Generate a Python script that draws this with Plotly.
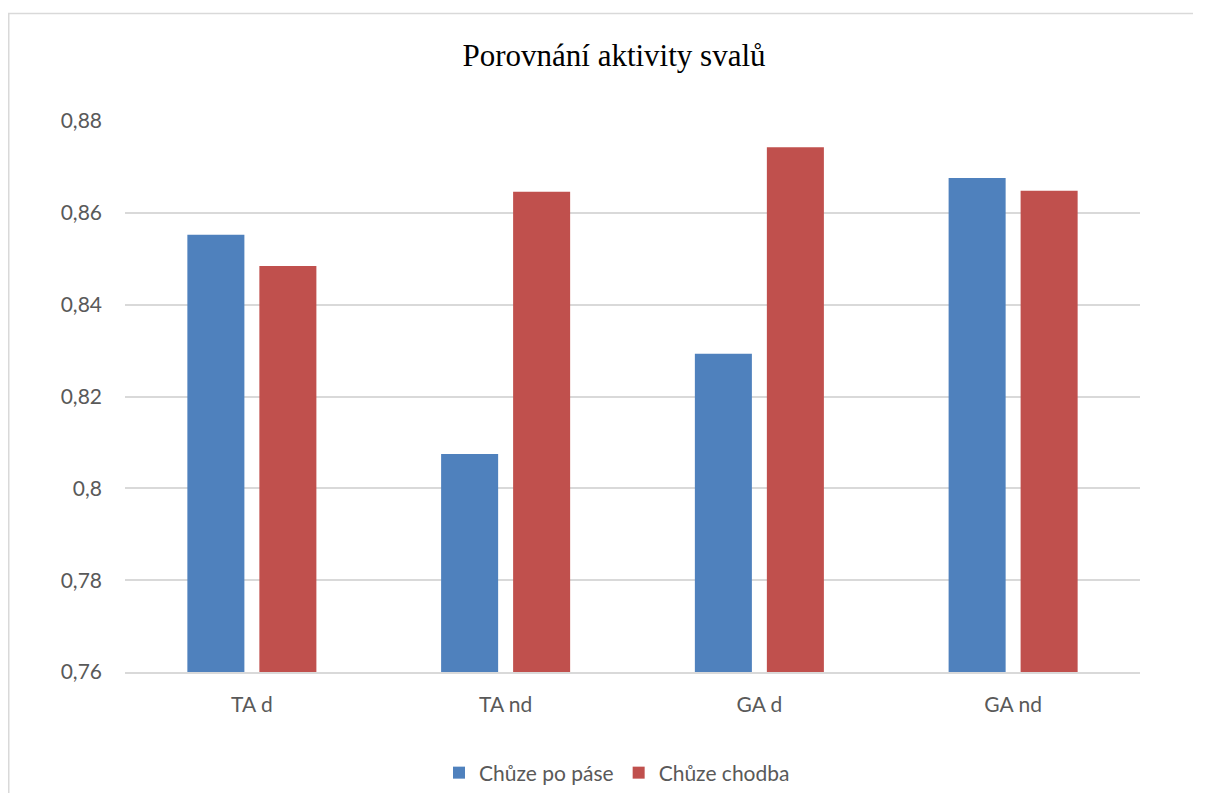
import plotly.graph_objects as go

categories = ["TA d", "TA nd", "GA d", "GA nd"]
series_names = ["Chůze po páse", "Chůze chodba"]
pas_values = [0.8552, 0.8075, 0.8293, 0.8676]
chodba_values = [0.8484, 0.8646, 0.8743, 0.8648]
tick_vals = [0.76, 0.78, 0.80, 0.82, 0.84, 0.86, 0.88]
tick_text = ["0,76", "0,78", "0,8", "0,82", "0,84", "0,86", "0,88"]

fig = go.Figure()
fig.add_trace(go.Bar(x=categories, y=pas_values, name=series_names[0],
                     marker=dict(color="#4F81BD", line=dict(width=0))))
fig.add_trace(go.Bar(x=categories, y=chodba_values, name=series_names[1],
                     marker=dict(color="#C0504D", line=dict(width=0))))

# page body has an 8px margin; size figure so absolute positions match
OFF = 8
W, H = 1207 - 2 * OFF - 6, 805 - 2 * OFF - 4
L, T = 125 - OFF, 121 - OFF
R = W - (1140 - OFF)
B = H - (672 - OFF)
pw = W - L - R
ph = H - T - B

# border: left and top edges only (right/bottom are cut off in the reference)
bx0 = (0.75 - L) / pw
bx1 = (W + 40 - L) / pw
by_top = 1 + (T - (13.5 - OFF)) / ph
by_bot = -(H + 40 - T - ph) / ph
border_path = f"M {bx0},{by_bot} L {bx0},{by_top} L {bx1},{by_top}"

fig.update_layout(
    width=W, height=H,
    margin=dict(l=L, r=R, t=T, b=B, autoexpand=False),
    paper_bgcolor="white", plot_bgcolor="white",
    barmode="group", bargap=0.4325, bargroupgap=0.208,
    title=dict(text="Porovnání aktivity svalů", x=(614 - OFF - L) / pw, xref="paper",
               xanchor="center", y=1 - (55 - OFF) / H, yanchor="middle",
               font=dict(family="Liberation Serif", size=31, color="#000000")),
    font=dict(family="Lato, Open Sans, sans-serif", size=21, color="#595959"),
    xaxis=dict(showgrid=False, showline=True, linecolor="#D9D9D9", linewidth=1.5,
               ticks="", tickfont=dict(size=21, color="#595959"), ticklabelstandoff=13),
    yaxis=dict(range=[0.76, 0.88], tickvals=tick_vals, ticktext=tick_text,
               showgrid=True, gridcolor="#D9D9D9", gridwidth=1.5,
               zeroline=False, showline=False, ticks="",
               tickfont=dict(size=21, color="#595959"), ticklabelstandoff=22),
    legend=dict(orientation="h", x=(617 - OFF - L) / pw, xanchor="center", xref="paper",
                y=-(773 - 672) / ph, yanchor="middle",
                font=dict(size=21, color="#595959"), itemsizing="constant",
                traceorder="normal", bgcolor="rgba(0,0,0,0)"),
    showlegend=True,
    shapes=[dict(type="path", xref="paper", yref="paper", path=border_path,
                 line=dict(color="#D9D9D9", width=1.5), layer="below")],
)

fig.write_html("out.html")
